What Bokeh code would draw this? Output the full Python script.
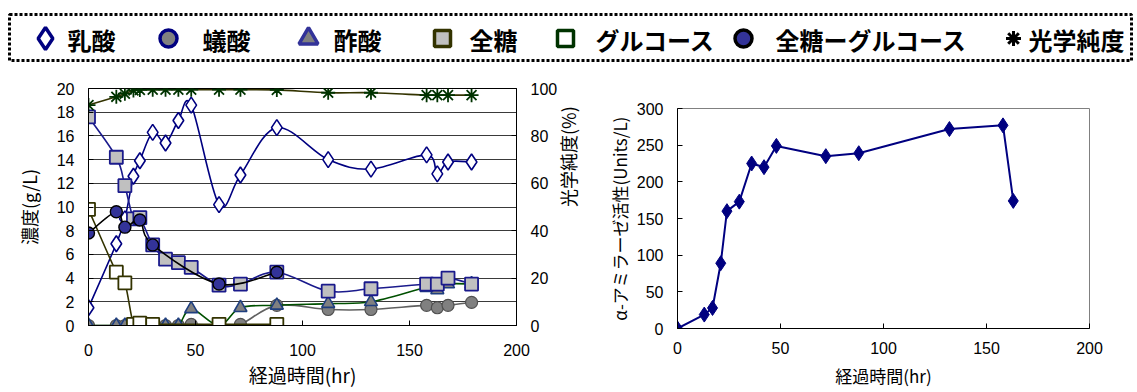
import math

from bokeh.plotting import figure
from bokeh.models import Range1d, LinearAxis, FixedTicker, ColumnDataSource
from bokeh.layouts import column, row
from bokeh.embed import file_html
from bokeh.resources import INLINE
from bokeh.core.properties import value

# ---- fermentation time course (left chart) ----
hours = [0, 13, 17, 21, 24, 30, 36, 42, 48, 61, 71, 88, 112, 132, 158, 163, 168, 179]
lactic = [1.5, 6.9, 9.0, 12.6, 13.9, 16.3, 15.4, 17.3, 18.6, 10.2, 12.7, 16.7, 14.0, 13.2, 14.4, 12.8, 13.8, 13.8]
total_sugar = [17.6, 14.2, 11.8, 9.0, 9.1, 6.8, 5.6, 5.3, 4.9, 3.4, 3.5, 4.5, 2.9, 3.1, 3.5, 3.5, 4.0, 3.5]
purity = [93.0, 96.5, 97.8, 99.2, 99.4, 99.5, 99.5, 99.5, 99.5, 99.5, 99.5, 99.4, 98.2, 98.2, 97.2, 97.2, 97.2, 97.2]

hours_glucose = [0, 13, 17, 21, 24, 30, 61, 88]
glucose = [9.8, 4.5, 3.6, 0.1, 0.2, 0.1, 0.1, 0.1]

hours_diff = [0, 13, 17, 24, 30, 61, 88]
sugar_minus_glucose = [7.8, 9.6, 8.3, 8.9, 6.8, 3.5, 4.5]

hours_formic = [0, 13, 17, 36, 42, 48, 61, 71, 88, 112, 132, 158, 163, 168, 179]
formic = [0, 0, 0, 0, 0, 0.1, 0, 0.1, 1.7, 1.35, 1.35, 1.7, 1.5, 1.7, 1.95]

hours_acetic = [0, 13, 17, 36, 42, 48, 61, 71, 88, 112, 132, 158, 163, 168, 179]
acetic = [0, 0, 0, 0, 0, 1.4, 0, 1.5, 1.7, 1.85, 2.0, 3.2, 3.0, 3.5, 3.5]

# ---- alpha-amylase activity (right chart) ----
hours_amylase = [0, 13, 17, 21, 24, 30, 36, 42, 48, 72, 88, 132, 158, 163]
amylase = [0, 19, 28, 89, 160, 173, 225, 220, 249, 235, 239, 272, 277, 174]

x_ticks = [0, 50, 100, 150, 200]
conc_ticks = list(range(0, 21, 2))
purity_ticks = [0, 20, 40, 60, 80, 100]
amylase_ticks = [0, 50, 100, 150, 200, 250, 300]

JP = "Noto Sans CJK JP"
NUM = "Liberation Sans"


def smooth(xs, ys, k=1.0 / 6.0):
    """Cubic Bezier segments (Catmull-Rom style) through every data point."""
    n = len(xs)
    d = dict(x0=[], y0=[], x1=[], y1=[], cx0=[], cy0=[], cx1=[], cy1=[])
    for i in range(n - 1):
        a, b = max(i - 1, 0), min(i + 2, n - 1)
        d["x0"].append(xs[i]); d["y0"].append(ys[i])
        d["x1"].append(xs[i + 1]); d["y1"].append(ys[i + 1])
        d["cx0"].append(xs[i] + (xs[i + 1] - xs[a]) * k)
        d["cy0"].append(ys[i] + (ys[i + 1] - ys[a]) * k)
        d["cx1"].append(xs[i + 1] - (xs[b] - xs[i]) * k)
        d["cy1"].append(ys[i + 1] - (ys[b] - ys[i]) * k)
    return ColumnDataSource(d)


def style_axis(ax, ticks, standoff, label_standoff, label_size="18px"):
    ax.ticker = FixedTicker(ticks=ticks)
    ax.major_label_text_font = NUM
    ax.major_label_text_font_size = "16px"
    ax.major_label_text_color = "black"
    ax.major_label_standoff = standoff
    ax.axis_label_text_font = JP
    ax.axis_label_text_font_size = label_size
    ax.axis_label_text_font_style = "normal"
    ax.axis_label_text_color = "black"
    ax.axis_label_standoff = label_standoff
    ax.axis_line_color = "black"
    ax.major_tick_in = 5
    ax.major_tick_out = 0
    ax.minor_tick_line_color = None


# ---------------- legend strip ----------------
leg = figure(width=1137, height=62, x_range=Range1d(0, 1137), y_range=Range1d(62, 0),
             output_backend="svg", toolbar_location=None, min_border=0)
leg.axis.visible = False
leg.grid.visible = False
leg.outline_line_color = None
leg.quad(left=[9], right=[1131], top=[14], bottom=[60], fill_color=None,
         line_color="black", line_width=3, line_dash="3 2")

ly = 38
leg.scatter([45], [ly], marker="diamond", size=22, fill_color="white", line_color="#000080", line_width=3.5)
leg.scatter([168], [ly], marker="circle", size=17, fill_color="#808080", line_color="#000080", line_width=3.5)
leg.scatter([308], [ly], marker="triangle", size=19, fill_color="#808080", line_color="#333399", line_width=3.5)
leg.scatter([442], [ly], marker="square", size=16, fill_color="#C0C0C0", line_color="#333300", line_width=3.5)
leg.scatter([565], [ly], marker="square", size=16, fill_color="white", line_color="#003300", line_width=3.5)
leg.scatter([743], [ly], marker="circle", size=17, fill_color="#333399", line_color="black", line_width=3.5)
leg.scatter([1013], [ly], marker="asterisk", size=15, line_color="black", line_width=3)

legend_labels = ["乳酸", "蟻酸", "酢酸", "全糖", "グルコース", "全糖ーグルコース", "光学純度"]
legend_x = [67, 202, 333, 469, 595, 775, 1028]
leg.text(x=legend_x, y=[ly + 1] * len(legend_x), text=legend_labels, text_font=value(JP),
         text_font_size="24px", text_font_style="bold", text_baseline="middle", text_align="left",
         text_color="black")

# ---------------- left chart: concentrations + optical purity ----------------
p = figure(width=600, height=330, x_range=Range1d(0, 200), y_range=Range1d(0, 20),
           output_backend="svg", toolbar_location=None,
           min_border_left=88, min_border_right=84, min_border_top=26, min_border_bottom=67)
p.extra_y_ranges = {"purity": Range1d(0, 100)}
p.outline_line_color = "black"
p.xgrid.visible = False
p.ygrid.ticker = FixedTicker(ticks=conc_ticks)
p.ygrid.grid_line_color = "#3a3a3a"
p.ygrid.grid_line_width = 1
p.xaxis.axis_label = "経過時間(hr)"
p.yaxis.axis_label = "濃度(g/L)"
style_axis(p.xaxis[0], x_ticks, 18, 2, "19px")
style_axis(p.yaxis[0], conc_ticks, 14, 12)
right_ax = LinearAxis(y_range_name="purity", axis_label="光学純度(%)")
style_axis(right_ax, purity_ticks, 14, 8)
try:
    # read bottom-to-top, like the left axis title
    right_ax.axis_label_orientation = math.pi / 2
except AttributeError:
    pass
p.add_layout(right_ax, "right")

# lactic acid
p.bezier(source=smooth(hours, lactic), x0="x0", y0="y0", x1="x1", y1="y1",
         cx0="cx0", cy0="cy0", cx1="cx1", cy1="cy1", line_color="#000080", line_width=1.6)
p.scatter(hours, lactic, marker="diamond", size=16, fill_color="white", line_color="#000080", line_width=1.6)
# formic acid
p.bezier(source=smooth(hours_formic, formic), x0="x0", y0="y0", x1="x1", y1="y1",
         cx0="cx0", cy0="cy0", cx1="cx1", cy1="cy1", line_color="#606060", line_width=1.6)
p.scatter(hours_formic, formic, marker="circle", size=12, fill_color="#808080", line_color="#505050", line_width=1.2)
# acetic acid
p.bezier(source=smooth(hours_acetic, acetic), x0="x0", y0="y0", x1="x1", y1="y1",
         cx0="cx0", cy0="cy0", cx1="cx1", cy1="cy1", line_color="#005000", line_width=1.6)
p.scatter(hours_acetic, acetic, marker="triangle", size=13, fill_color="#808080", line_color="#1F3F7F", line_width=1.6)
# total sugar
p.bezier(source=smooth(hours, total_sugar), x0="x0", y0="y0", x1="x1", y1="y1",
         cx0="cx0", cy0="cy0", cx1="cx1", cy1="cy1", line_color="#1a1a8c", line_width=1.6)
p.scatter(hours, total_sugar, marker="square", size=13, fill_color="#C0C0C0", line_color="#1a1a8c", line_width=1.8)
# glucose
p.bezier(source=smooth(hours_glucose, glucose), x0="x0", y0="y0", x1="x1", y1="y1",
         cx0="cx0", cy0="cy0", cx1="cx1", cy1="cy1", line_color="#333300", line_width=1.6)
p.scatter(hours_glucose, glucose, marker="square", size=13, fill_color="white", line_color="#333300", line_width=1.8)
# total sugar minus glucose
p.bezier(source=smooth(hours_diff, sugar_minus_glucose), x0="x0", y0="y0", x1="x1", y1="y1",
         cx0="cx0", cy0="cy0", cx1="cx1", cy1="cy1", line_color="black", line_width=1.6)
p.scatter(hours_diff, sugar_minus_glucose, marker="circle", size=12, fill_color="#333399", line_color="black", line_width=1.4)
# optical purity on the right axis
p.bezier(source=smooth(hours, purity), x0="x0", y0="y0", x1="x1", y1="y1",
         cx0="cx0", cy0="cy0", cx1="cx1", cy1="cy1", line_color="#333300", line_width=1.6,
         y_range_name="purity")
p.scatter(hours, purity, marker="asterisk", size=14, line_color="#003300", line_width=1.8,
          y_range_name="purity")

# ---------------- right chart: alpha-amylase activity ----------------
q = figure(width=537, height=330, x_range=Range1d(0, 200), y_range=Range1d(0, 300),
           output_backend="svg", toolbar_location=None,
           min_border_left=77, min_border_right=48, min_border_top=46, min_border_bottom=64)
q.outline_line_color = "#808080"
q.grid.visible = False
q.xaxis.axis_label = "経過時間(hr)"
q.yaxis.axis_label = "α-アミラーゼ活性(Units/L)"
style_axis(q.xaxis[0], x_ticks, 13, 6, "17px")
style_axis(q.yaxis[0], amylase_ticks, 14, 2, "17px")
q.line(hours_amylase, amylase, line_color="#000080", line_width=2)
q.scatter(hours_amylase, amylase, marker="diamond", size=15, fill_color="#000080", line_color="#000080")

# each chart sits in its own column so the two frames keep their own borders
layout = column(leg, row(column(p), column(q), spacing=0), spacing=0)

open("out.html", "w").write(file_html(layout, INLINE))
